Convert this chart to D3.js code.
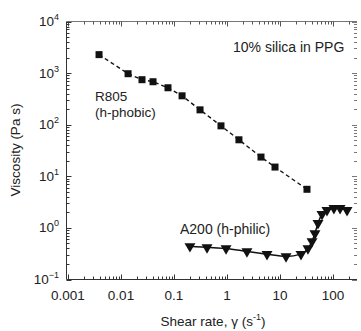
<!DOCTYPE html>
<html><head><meta charset="utf-8">
<script src="https://cdn.jsdelivr.net/npm/d3@7"></script>
<style>body{margin:0;background:#fff}svg{display:block}text{font-family:"Liberation Sans",Arial,sans-serif;fill:#222}</style>
</head><body><svg id="c" width="361" height="331"></svg>
<script>
const r805Shear = [0.00385,0.0136,0.0249,0.0402,0.077,0.142,0.31,0.77,1.68,4.38,8.05,32.3];
const r805Visc  = [2280,973,745,680,520,363,194,95,51,23.6,15.1,5.6];
const a200Shear = [0.2,0.42,0.96,2.38,5.69,13,24.9,33.7,40.2,45.7,52.1,62,77,104,136,184];
const a200Visc  = [0.44,0.42,0.40,0.35,0.31,0.28,0.31,0.40,0.55,0.785,1.23,1.84,2.2,2.4,2.4,2.2];
const xTickLabels = ["0.001","0.01","0.1","1","10","100"];
const yTickExps = [-1,0,1,2,3,4];

const svg = d3.select("#c");
const L=66.5, R=357, T=21.5, B=279.5;
const x = d3.scaleLog().domain([1e-3,1e3]).range([68,386]);
const y = d3.scaleLog().domain([0.1,1e4]).range([B,T]);
const col="#333";
const FS=13.5, FA=14;

// frame
svg.append("line").attr("x1",L).attr("x2",L).attr("y1",T).attr("y2",B).attr("stroke",col);
svg.append("line").attr("x1",L).attr("x2",R).attr("y1",B).attr("y2",B).attr("stroke",col);
svg.append("line").attr("x1",L).attr("x2",R).attr("y1",T).attr("y2",T).attr("stroke","#777");

// x ticks
const xmax = x.invert(R-1);
const xt=[];
for(let e=-3;e<=2;e++){for(let m=1;m<=9;m++){const v=m*Math.pow(10,e); if(v<=xmax) xt.push({v,major:m===1});}}
xt.forEach(t=>{
  const px=Math.round(x(t.v))+0.5, len=t.major?5:3;
  svg.append("line").attr("x1",px).attr("x2",px).attr("y1",B).attr("y2",B-len).attr("stroke",col);
  svg.append("line").attr("x1",px).attr("x2",px).attr("y1",T).attr("y2",T+len).attr("stroke","#555");
});
xTickLabels.forEach(s=>{
  svg.append("text").attr("x",x(+s)).attr("y",300).attr("text-anchor","middle").attr("font-size",FS).text(s);
});
// y ticks
const yt=[];
for(let e=-1;e<=3;e++){for(let m=1;m<=9;m++){yt.push({v:m*Math.pow(10,e),major:m===1});}}
yt.push({v:1e4,major:true});
yt.forEach(t=>{
  const py=Math.round(y(t.v))+0.5, len=t.major?5:3;
  svg.append("line").attr("x1",L).attr("x2",L+len).attr("y1",py).attr("y2",py).attr("stroke",col);
  svg.append("line").attr("x1",R).attr("x2",R-len).attr("y1",py).attr("y2",py).attr("stroke","#777");
});
yTickExps.forEach(e=>{
  const t=svg.append("text").attr("x",59).attr("y",y(Math.pow(10,e))+4.5).attr("text-anchor","end").attr("font-size",FS);
  t.append("tspan").text("10");
  t.append("tspan").attr("font-size",9).attr("dy",-6).text(String(e).replace("-","\u2212"));
});

// axis titles
svg.append("text").attr("transform","translate(20,150) rotate(-90)").attr("text-anchor","middle").attr("font-size",FS).text("Viscosity (Pa s)");
const xt2=svg.append("text").attr("x",213).attr("y",326).attr("text-anchor","middle").attr("font-size",FS);
xt2.append("tspan").text("Shear rate, \u03b3 (s");
xt2.append("tspan").attr("font-size",9).attr("dy",-6).text("-1");
xt2.append("tspan").attr("dy",6).text(")");

// R805
const rData=r805Shear.map((s,i)=>[s,r805Visc[i]]);
svg.append("path").datum(rData).attr("fill","none").attr("stroke","#111").attr("stroke-width",1.4).attr("stroke-dasharray","4,3")
  .attr("d",d3.line().x(d=>x(d[0])).y(d=>y(d[1])));
svg.selectAll(".sq").data(rData).join("rect").attr("x",d=>x(d[0])-3.5).attr("y",d=>y(d[1])-3.5).attr("width",7).attr("height",7).attr("fill","#111");

// A200
const aData=a200Shear.map((s,i)=>[s,a200Visc[i]]);
svg.append("path").datum(aData).attr("fill","none").attr("stroke","#111").attr("stroke-width",1.5)
  .attr("d",d3.line().curve(d3.curveMonotoneX).x(d=>x(d[0])).y(d=>y(d[1])));
const tri=d3.symbol().type(d3.symbolTriangle).size(52);
svg.selectAll(".tr").data(aData).join("path").attr("d",tri).attr("transform",d=>`translate(${x(d[0])},${y(d[1])}) rotate(180)`).attr("fill","#111");

// annotations
svg.append("text").attr("x",233).attr("y",52).attr("font-size",FA).text("10% silica in PPG");
svg.append("text").attr("x",95).attr("y",101).attr("font-size",FS).text("R805");
svg.append("text").attr("x",95).attr("y",117).attr("font-size",FS).text("(h-phobic)");
svg.append("text").attr("x",180).attr("y",234).attr("font-size",FA).text("A200 (h-philic)");
</script></body></html>
